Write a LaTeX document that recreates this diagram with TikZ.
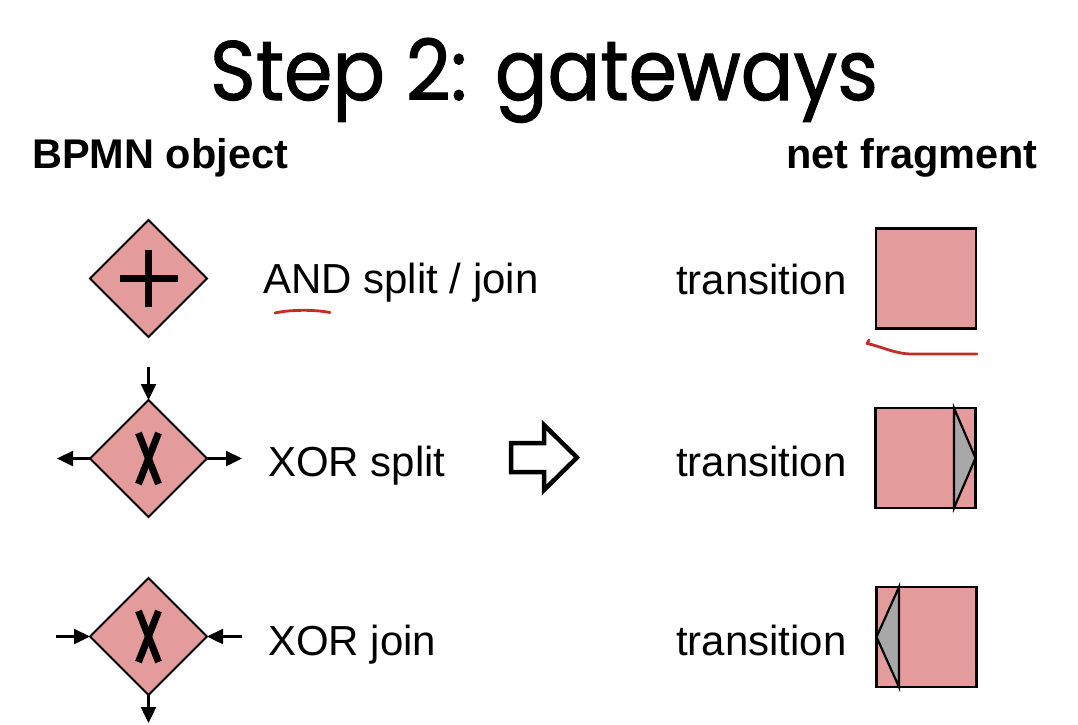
\documentclass[tikz,border=0pt]{standalone}
\usepackage{fontspec}
\setmainfont{Liberation Sans}
\newfontfamily\titlefont[FakeBold=1.3]{Poppins}
\usetikzlibrary{shapes.geometric,arrows.meta}
\definecolor{gatefill}{RGB}{228,155,155}
\definecolor{tokgray}{RGB}{168,168,168}
\definecolor{inkred}{RGB}{195,45,40}
\begin{document}
\begin{tikzpicture}[x=1pt,y=-1pt,
  gate/.style={diamond, draw=black, line width=1.8pt, fill=gatefill,
    minimum width=117pt, minimum height=117pt, inner sep=0pt, outer sep=0pt, aspect=1},
  trans/.style={rectangle, draw=black, line width=2.6pt, fill=gatefill,
    minimum width=100pt, minimum height=100pt, inner sep=0pt, outer sep=0pt},
  txt/.style={font=\fontsize{42}{48}\selectfont, anchor=base west, inner sep=0pt},
  heading/.style={font=\bfseries\fontsize{41.5}{48}\selectfont, inner sep=0pt},
  flow/.style={line width=2.4pt, -{Triangle[length=16pt,width=15pt]}},
  glyph/.style={line width=7pt, line cap=butt},
  token/.style={draw=black, fill=tokgray, line width=2.2pt, line join=miter},
  ink/.style={draw=inkred, line width=2.8pt, line cap=round, line join=round}
]
\fill[white] (0,0) rectangle (1078,724);
\useasboundingbox (0,0) rectangle (1078,724);

% title and column headings
\node[anchor=base, inner sep=0pt] (title) at (544,100)
  {\titlefont\resizebox{668pt}{62pt}{Step 2: gateways}};
\node[heading, anchor=base west] (hleft) at (32,168) {BPMN object};
\node[heading, anchor=base east] (hright) at (1038,168) {net fragment};

% AND gateway
\node[gate] (andgw) at (148.5,278.5) {};
\draw[glyph] (andgw.center) ++(-29,0) -- ++(58,0);
\draw[glyph] (andgw.center) ++(0,-28.5) -- ++(0,57);
\node[txt] (andtxt) at (263,293) {AND split / join};
\draw[ink] (275,313) .. controls (290,309.5) and (315,309.5) .. (330,312.5);

% XOR split gateway
\node[gate] (xs) at (148.5,458.5) {};
\draw[glyph] (xs.center) ++(-10,-25.5) -- ++(20,51);
\draw[glyph] (xs.center) ++(10,-25.5) -- ++(-20,51);
\coordinate (xsin) at (148.5,367);
\coordinate (xsl) at (57,458.5);
\coordinate (xsr) at (242,458.5);
\draw[flow] (xsin) -- (xs.north);
\draw[flow] (xs.west) -- (xsl);
\draw[flow] (xs.east) -- (xsr);
\node[txt] (xstxt) at (268,476) {XOR split};

% XOR join gateway
\node[gate] (xj) at (148.5,636.5) {};
\draw[glyph] (xj.center) ++(-10,-25.5) -- ++(20,51);
\draw[glyph] (xj.center) ++(10,-25.5) -- ++(-20,51);
\coordinate (xjl) at (56,636.5);
\coordinate (xjr) at (242,636.5);
\coordinate (xjout) at (148.5,723);
\draw[flow] (xjl) -- (xj.west);
\draw[flow] (xjr) -- (xj.east);
\draw[flow] (xj.south) -- (xjout);
\node[txt] (xjtxt) at (268,655) {XOR join};

% mapping arrow
\draw[line width=4.5pt, line join=miter, fill=white]
  (511,443) -- (544,443) -- (544,425) -- (577,457.5) -- (544,490)
  -- (544,472) -- (511,472) -- cycle;

% net fragments
\node[txt] (t1txt) at (676,294) {transition};
\node[trans] (t1) at (926,278.5) {};
\draw[ink] (869,340) -- (867,343.5) .. controls (880,346) and (895,354) .. (912,354) -- (977,354);

\node[txt] (t2txt) at (676,476) {transition};
\node[trans] (t2) at (925.5,458) {};
\draw[token] ([xshift=28.5pt]t2.north) -- (t2.east) -- ([xshift=28.5pt]t2.south) -- cycle;

\node[txt] (t3txt) at (676,655) {transition};
\node[trans] (t3) at (926.5,637) {};
\draw[token] ([xshift=-27.5pt]t3.north) -- (t3.west) -- ([xshift=-27.5pt]t3.south) -- cycle;
\end{tikzpicture}
\end{document}
